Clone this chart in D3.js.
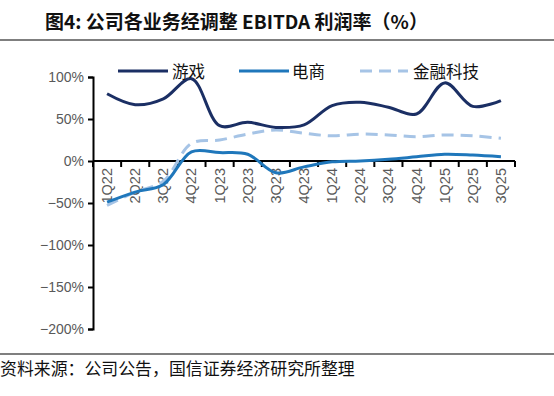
<!DOCTYPE html>
<html>
<head>
<meta charset="utf-8">
<script src="https://cdn.jsdelivr.net/npm/d3@7"></script>
<style>
  body { margin: 0; background: #fff; }
  svg { display: block; }
</style>
</head>
<body>
<svg width="554" height="396"></svg>
<script>
// kwartalen en marges per bedrijfsonderdeel (%)
const kwartalen = ["1Q22", "2Q22", "3Q22", "4Q22", "1Q23", "2Q23", "3Q23", "4Q23",
                   "1Q24", "2Q24", "3Q24", "4Q24", "1Q25", "2Q25", "3Q25"];
const youxi = [80, 67, 74, 98, 42, 46, 40, 43, 66, 70, 64, 56, 93, 65, 72];
const dianshang = [-49, -37, -28, 11, 10, 8, -14, -7, -1, 0, 2, 5, 8, 7, 5];
const jinrong = [-53, -37, -24, 21, 25, 32, 37, 33, 30, 32, 31, 29, 31, 30, 27];
const yTicks = [100, 50, 0, -50, -100, -150, -200];

const series = [
  { naam: "游戏", waarden: youxi, kleur: "#1b2f64", dash: null },
  { naam: "电商", waarden: dianshang, kleur: "#1f77bb", dash: null },
  { naam: "金融科技", waarden: jinrong, kleur: "#a6c4e6", dash: "12,7" }
];

const svg = d3.select("svg");
const cjk = "'Noto Sans CJK SC', sans-serif";
const margin = { top: 77, left: 93, right: 39, bottom: 67 };
const width = 554, height = 396;

// titel en lijnen
svg.append("text")
  .attr("x", 45).attr("y", 29)
  .style("font-family", cjk).style("font-size", "19px").style("font-weight", "bold")
  .attr("fill", "#111")
  .text("图4: 公司各业务经调整 EBITDA 利润率（%）");

svg.append("line").attr("x1", 0).attr("x2", width).attr("y1", 40).attr("y2", 40)
  .attr("stroke", "#000").attr("stroke-width", 1.2);
svg.append("line").attr("x1", 0).attr("x2", width).attr("y1", 354).attr("y2", 354)
  .attr("stroke", "#000").attr("stroke-width", 1.2);

svg.append("text")
  .attr("x", 0).attr("y", 375)
  .style("font-family", cjk).style("font-size", "16.9px")
  .attr("fill", "#111")
  .text("资料来源：公司公告，国信证券经济研究所整理");

const x = d3.scaleBand().domain(kwartalen).range([margin.left, width - margin.right]);
const y = d3.scaleLinear().domain([-200, 100]).range([329, 77]);

// y-as
const yAxis = d3.axisLeft(y).tickValues(yTicks).tickFormat(d => (d < 0 ? "−" + (-d) : d) + "%").tickSize(5);
const gy = svg.append("g").attr("transform", `translate(${margin.left},0)`).call(yAxis);
gy.select(".domain").attr("stroke", "#000").attr("stroke-width", 2);
gy.selectAll(".tick line").attr("stroke", "#000").attr("stroke-width", 2);
gy.selectAll(".tick text")
  .attr("x", -9)
  .style("font-family", "'Liberation Sans', Arial, sans-serif").style("font-size", "14px")
  .attr("fill", "#595959");

// x-as op de nullijn, streepjes op de grenzen van de kwartalen
const gx = svg.append("g").attr("transform", `translate(0,${y(0)})`);
gx.append("line")
  .attr("x1", margin.left).attr("x2", width - margin.right)
  .attr("stroke", "#000").attr("stroke-width", 2);
gx.selectAll(".grens")
  .data(d3.range(kwartalen.length + 1))
  .enter().append("line")
  .attr("x1", i => margin.left + i * x.step()).attr("x2", i => margin.left + i * x.step())
  .attr("y1", 0).attr("y2", 6)
  .attr("stroke", "#000").attr("stroke-width", 2);
gx.selectAll(".label")
  .data(kwartalen)
  .enter().append("text")
  .attr("transform", d => `translate(${x(d) + x.bandwidth() / 2 + 5},7) rotate(-90)`)
  .attr("text-anchor", "end")
  .style("font-family", "'Liberation Sans', Arial, sans-serif").style("font-size", "14.5px")
  .attr("fill", "#595959")
  .text(d => d);

// de lijnen
const lijn = d3.line()
  .x((d, i) => x(kwartalen[i]) + x.bandwidth() / 2)
  .y(d => y(d))
  .curve(d3.curveCatmullRom.alpha(0.5));

series.slice().reverse().forEach(s => {
  svg.append("path")
    .datum(s.waarden)
    .attr("d", lijn)
    .attr("fill", "none")
    .attr("stroke", s.kleur)
    .attr("stroke-width", 3)
    .attr("stroke-dasharray", s.dash);
});

// legenda
const legenda = [
  { x1: 118, x2: 168, tx: 172 },
  { x1: 239, x2: 289, tx: 292 },
  { x1: 360, x2: 408, tx: 413 }
];
series.forEach((s, i) => {
  const l = legenda[i];
  svg.append("line")
    .attr("x1", l.x1).attr("x2", l.x2).attr("y1", 71).attr("y2", 71)
    .attr("stroke", s.kleur).attr("stroke-width", 3)
    .attr("stroke-dasharray", s.dash);
  svg.append("text")
    .attr("x", l.tx).attr("y", 77.5)
    .style("font-family", cjk).style("font-size", "16.5px")
    .attr("fill", "#111")
    .text(s.naam);
});
</script>
</body>
</html>
